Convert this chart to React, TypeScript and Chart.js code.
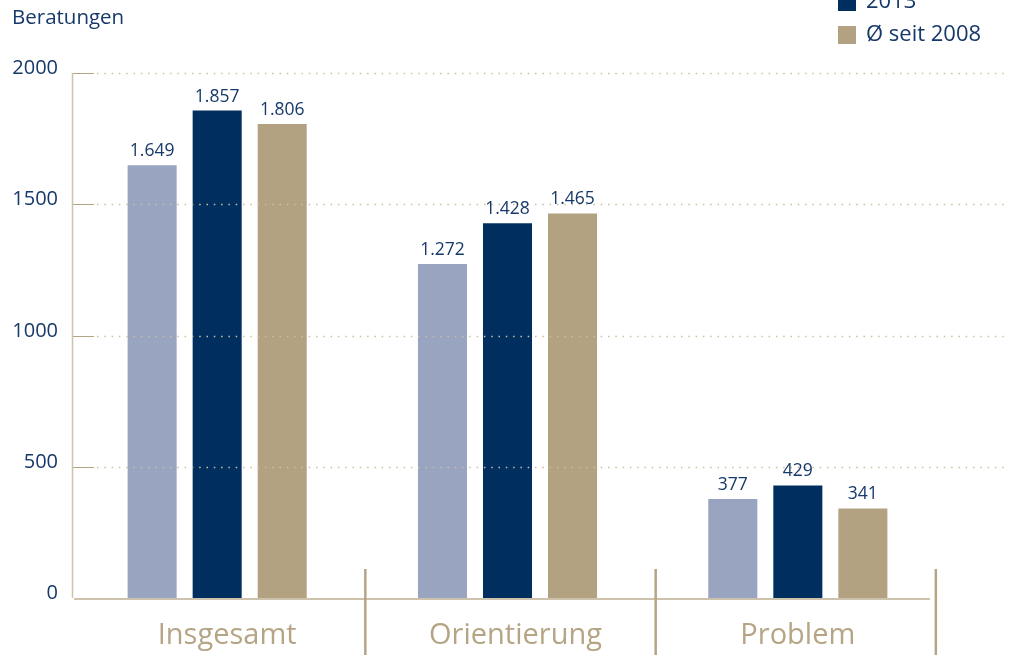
import React, { useEffect, useRef } from "react";
import { Chart, registerables } from "chart.js";

Chart.register(...registerables);

const categories = ["Insgesamt", "Orientierung", "Problem"];
const seriesLabels = ["2012", "2013", "Ø seit 2008"];
const values2012 = [1649, 1272, 377];
const values2013 = [1857, 1428, 429];
const valuesAvg = [1806, 1465, 341];
const yTicks = [0, 500, 1000, 1500, 2000];
const colors = ["#98a4c0", "#002f5f", "#b3a282"];

const NAVY = "#17386a";
const TAN = "#b5a585";
const FONT = "'Open Sans', 'DejaVu Sans', sans-serif";

const fmt = (v: number) => v.toLocaleString("de-DE");

const decor = {
  id: "decor",
  afterDatasetsDraw(chart: any) {
    const ctx = chart.ctx as CanvasRenderingContext2D;
    const y = chart.scales.y;
    const x = chart.scales.x;
    const area = chart.chartArea;
    ctx.save();

    // title
    ctx.fillStyle = NAVY;
    ctx.font = `20.5px ${FONT}`;
    ctx.textAlign = "left";
    ctx.textBaseline = "middle";
    ctx.fillText("Beratungen", 12, 18);

    // y ticks and grid
    yTicks.forEach((t) => {
      const py = Math.round(y.getPixelForValue(t)) + 0.5;
      ctx.fillStyle = NAVY;
      ctx.font = `20px ${FONT}`;
      ctx.textAlign = "right";
      ctx.textBaseline = "middle";
      ctx.fillText(String(t), 58, py - 5);
      if (t > 0) {
        ctx.strokeStyle = TAN;
        ctx.lineWidth = 1;
        ctx.setLineDash([]);
        ctx.beginPath();
        ctx.moveTo(area.left, py);
        ctx.lineTo(area.left + 22, py);
        ctx.stroke();
        ctx.strokeStyle = "#cbbfa3";
        ctx.lineWidth = 1.5;
        ctx.setLineDash([1.5, 5.8]);
        ctx.beginPath();
        ctx.moveTo(area.left + 25, py);
        ctx.lineTo(1006, py);
        ctx.stroke();
        ctx.setLineDash([]);
      }
    });

    // axes lines
    ctx.strokeStyle = "#cdc3ac";
    ctx.lineWidth = 1.5;
    ctx.beginPath();
    ctx.moveTo(area.left + 0.5, y.getPixelForValue(2000));
    ctx.lineTo(area.left + 0.5, area.bottom);
    ctx.stroke();
    ctx.lineWidth = 2;
    ctx.beginPath();
    ctx.moveTo(area.left + 2, area.bottom + 1);
    ctx.lineTo(930, area.bottom + 1);
    ctx.stroke();

    // category labels and separators
    ctx.strokeStyle = TAN;
    ctx.lineWidth = 2.5;
    const labelShift = [10, 8, 0];
    categories.forEach((c, i) => {
      const cx = x.getPixelForValue(i);
      ctx.fillStyle = TAN;
      ctx.font = `29px ${FONT}`;
      ctx.textAlign = "center";
      ctx.textBaseline = "middle";
      ctx.fillText(c, cx + labelShift[i], 636);
      const sep = i < categories.length - 1 ? (cx + x.getPixelForValue(i + 1)) / 2 + 3 : cx + 138;
      ctx.beginPath();
      ctx.moveTo(sep, area.bottom - 29);
      ctx.lineTo(sep, 655);
      ctx.stroke();
    });

    // value labels
    chart.data.datasets.forEach((ds: any, di: number) => {
      const meta = chart.getDatasetMeta(di);
      meta.data.forEach((bar: any, i: number) => {
        ctx.fillStyle = NAVY;
        ctx.font = `17.5px ${FONT}`;
        ctx.textAlign = "center";
        ctx.textBaseline = "alphabetic";
        ctx.fillText(fmt(ds.data[i]), bar.x, bar.y - 9);
      });
    });

    // legend
    seriesLabels.forEach((l, i) => {
      const cy = 35 - (2 - i) * 33;
      ctx.fillStyle = colors[i];
      ctx.fillRect(838, cy - 9, 18, 18);
      ctx.fillStyle = NAVY;
      ctx.font = `22px ${FONT}`;
      ctx.textAlign = "left";
      ctx.textBaseline = "middle";
      ctx.fillText(l, 866, cy);
    });

    ctx.restore();
  },
};

export default function App() {
  const ref = useRef<HTMLCanvasElement>(null);
  useEffect(() => {
    document.body.style.margin = "0";
    const chart = new Chart(ref.current as HTMLCanvasElement, {
      type: "bar",
      data: {
        labels: categories,
        datasets: [
          { label: seriesLabels[0], data: values2012, backgroundColor: colors[0] },
          { label: seriesLabels[1], data: values2013, backgroundColor: colors[1] },
          { label: seriesLabels[2], data: valuesAvg, backgroundColor: colors[2] },
        ],
      },
      options: {
        animation: false,
        responsive: false,
        maintainAspectRatio: false,
        layout: { padding: { left: 72, right: 67, top: 73, bottom: 60 } },
        datasets: { bar: { categoryPercentage: 0.672, barPercentage: 0.754 } },
        plugins: { legend: { display: false }, tooltip: { enabled: false } },
        scales: {
          x: { display: false },
          y: { display: false, min: 0, max: 2000 },
        },
      },
      plugins: [decor],
    });
    return () => chart.destroy();
  }, []);
  return (
    <div style={{ position: "absolute", left: 0, top: 0, width: 1010, height: 658 }}>
      <canvas ref={ref} width={1010} height={658} />
    </div>
  );
}
